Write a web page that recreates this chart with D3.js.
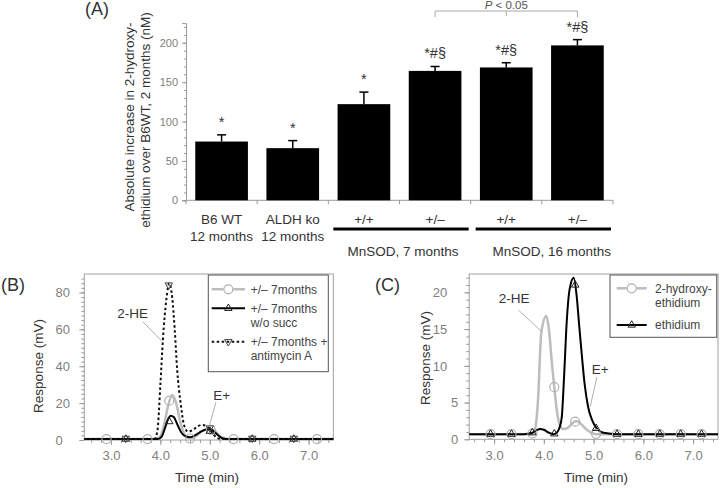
<!DOCTYPE html>
<html><head><meta charset="utf-8">
<script src="https://cdn.jsdelivr.net/npm/d3@7"></script>
<style>
body{margin:0;background:#fff;}
svg{display:block;font-family:"Liberation Sans",Arial,Helvetica,sans-serif;}
</style></head>
<body>
<svg id="chart" width="720" height="488"></svg>
<script>
// ---------- Panel A data ----------
const aCategories = ["B6 WT","ALDH ko","+/+","+/–","+/+","+/–"];
const aSubLabels = ["12 months","12 months","","","",""];
const aValues = [74.6, 66.2, 122.1, 164.3, 168.7, 196.7];
const aErrors = [8.5, 9.6, 15.3, 5.6, 6.0, 7.3];
const aSig = ["*","*","*","*#§","*#§","*#§"];
const aYTicks = [0,50,100,150,200];
const aGroups = [{label:"MnSOD, 7 months", from:2, to:3}, {label:"MnSOD, 16 months", from:4, to:5}];
const aBracket = {from:3, mid:4, to:5, text:"< 0.05"};

// ---------- Panel B data (time min, response mV) ----------
const bSeries7m = [[2.46,0.5],[3.0,0.5],[3.5,0.5],[3.92,0.6],[4.0,2],[4.08,9],[4.16,19],[4.24,24.4],[4.32,20],[4.4,10],[4.48,3.5],[4.56,1.2],[4.64,1],[4.74,2.5],[4.87,5.3],[5.0,6.3],[5.1,5],[5.2,2.2],[5.3,0.8],[5.45,0.5],[7.5,0.5]];
const bSeriesNoSucc = [[2.46,0.5],[3.95,0.5],[4.03,2],[4.1,7],[4.16,11.5],[4.21,13.2],[4.27,12.5],[4.35,8],[4.43,3.8],[4.52,1.9],[4.6,1.5],[4.7,2.5],[4.82,4.5],[4.95,5.8],[5.05,5.3],[5.15,3],[5.25,1],[5.4,0.5],[7.5,0.5]];
const bSeriesAntimycin = [[2.46,0.5],[3.88,0.5],[3.94,5],[4.0,30],[4.05,54],[4.12,76],[4.18,85],[4.24,77],[4.29,60],[4.34,38],[4.41,20],[4.48,8],[4.56,4.5],[4.66,5.5],[4.76,7.5],[4.85,8.2],[4.95,7],[5.05,4],[5.14,1.2],[5.25,0.5],[7.5,0.5]];
const bCircles = [[2.91,0.5],[3.74,0.5],[4.18,21.3],[4.6,0.8],[5.02,5.5],[5.48,0.5],[6.3,0.5],[7.17,0.5]];
const bUpTriangles = [[3.3,0.5],[4.18,10],[5.0,4.8],[5.86,0.5],[6.7,0.5]];
const bDownTriangles = [[3.3,0.9],[4.17,84],[5.0,6.5],[5.86,0.9],[6.7,0.9]];
const bYTicks = [0,20,40,60,80];
const bXTicks = [3,4,5,6,7];
const bLegend = [["+/– 7months"],["+/– 7months","w/o succ"],["+/– 7months +","antimycin A"]];
const bNotes = [{text:"2-HE", at:[3.436,66], from:[3.648,64], to:[4.039,53.3]},
                {text:"E+", at:[5.241,21.7], from:[5.126,20.6], to:[4.99,7.75]}];

// ---------- Panel C data ----------
const cSeriesHE = [[2.5,0.7],[3.75,0.7],[3.82,1.3],[3.88,5],[3.95,14.6],[4.05,16.8],[4.11,14.5],[4.16,10.5],[4.21,7.1],[4.27,3.5],[4.33,1.8],[4.39,1.4],[4.47,1.5],[4.56,2.1],[4.65,2.5],[4.73,2.2],[4.83,1.5],[4.95,0.9],[5.06,0.7],[7.5,0.7]];
const cSeriesE = [[2.5,0.7],[3.6,0.7],[3.75,0.85],[3.85,1.2],[3.92,1.4],[4.0,1.3],[4.1,0.9],[4.19,0.7],[4.26,0.9],[4.31,1.5],[4.36,3],[4.41,9],[4.46,16],[4.52,20.5],[4.6,22],[4.66,19.5],[4.71,15.5],[4.76,11.7],[4.82,7.5],[4.89,4.4],[4.97,2.6],[5.06,1.5],[5.15,1.0],[5.3,0.8],[5.5,0.7],[7.5,0.7]];
const cCircles = [[2.93,0.7],[3.35,0.7],[3.77,0.8],[4.21,7.1],[4.63,2.4],[5.05,0.75],[5.47,0.7],[5.9,0.7],[6.33,0.7],[6.75,0.7],[7.17,0.7]];
const cTriangles = [[2.93,0.7],[3.35,0.7],[3.77,0.9],[4.21,0.75],[4.63,21],[5.05,1.5],[5.47,0.7],[5.9,0.7],[6.33,0.7],[6.75,0.7],[7.17,0.7]];
const cYTicks = [0,5,10,15,20];
const cXTicks = [3,4,5,6,7];
const cLegend = [["2-hydroxy-","ethidium"],["ethidium"]];
const cNotes = [{text:"2-HE", at:[3.402,18.5], from:[3.488,17.6], to:[3.959,14.65]},
                {text:"E+", at:[5.133,8.85], from:[5.066,8.48], to:[4.932,4.44]}];

// ---------- drawing ----------
const svg = d3.select("#chart");
const AX = "#9a9a9a", TXT = "#333", TICK = "#808080", GRAYLINE = "#bdbdbd";

// ===== Panel A =====
(function(){
  const g = svg.append("g");
  const idx = d3.range(aCategories.length);
  const x = d3.scaleBand().domain(idx).range([186, 613]).paddingInner(0.26).paddingOuter(0.13);
  const y = d3.scaleLinear().domain([0, 225]).range([200.3, 23.1]);
  const step = x.step(), bw = x.bandwidth(), pad = (step - bw) / 2;

  const yAxis = d3.axisLeft(y).tickValues(aYTicks).tickSize(4).tickPadding(4);
  const ya = g.append("g").attr("transform","translate(186,0)").call(yAxis);
  ya.select(".domain").attr("stroke", AX);
  ya.selectAll(".tick line").attr("stroke", AX);
  ya.selectAll(".tick text").attr("fill", TICK).style("font-size","11px");
  const yMinor = d3.axisLeft(y).tickValues(d3.range(0, 225, 10)).tickSize(2).tickFormat("");
  const ym = g.append("g").attr("transform","translate(186,0)").call(yMinor);
  ym.select(".domain").remove();
  ym.selectAll(".tick line").attr("stroke", AX);

  g.append("line").attr("x1",186).attr("x2",613).attr("y1",y(0)).attr("y2",y(0)).attr("stroke",AX);
  const bounds = d3.range(aCategories.length + 1).map(i => 186 + i * step);
  g.selectAll(".ctick").data(bounds).join("line")
    .attr("x1",d=>d).attr("x2",d=>d).attr("y1",y(0)).attr("y2",y(0)+4).attr("stroke",AX);

  g.selectAll(".bar").data(idx).join("rect")
    .attr("x", i => x(i)).attr("width", bw)
    .attr("y", i => y(aValues[i])).attr("height", i => y(0) - y(aValues[i]))
    .attr("fill", "#000");
  idx.forEach(i => {
    const cx = x(i) + bw/2, top = y(aValues[i] + aErrors[i]);
    g.append("line").attr("x1",cx).attr("x2",cx).attr("y1",y(aValues[i])).attr("y2",top).attr("stroke","#000").attr("stroke-width",1.5);
    g.append("line").attr("x1",cx-4.5).attr("x2",cx+4.5).attr("y1",top).attr("y2",top).attr("stroke","#000").attr("stroke-width",1.5);
    g.append("text").attr("x",cx).attr("y",top-8).attr("text-anchor","middle")
      .style("font-size","14.5px").attr("fill",TXT).text(aSig[i]);
    g.append("text").attr("x",cx).attr("y",224).attr("text-anchor","middle")
      .style("font-size","13.5px").attr("fill",TXT).text(aCategories[i]);
    if (aSubLabels[i]) g.append("text").attr("x",cx).attr("y",241).attr("text-anchor","middle")
      .style("font-size","13.5px").attr("fill",TXT).text(aSubLabels[i]);
  });
  aGroups.forEach((gr, k) => {
    const x1 = x(gr.from) - pad + 5, x2 = x(gr.to) + bw + pad - 2;
    g.append("line").attr("x1",x1).attr("x2",x2).attr("y1",229).attr("y2",229).attr("stroke","#000").attr("stroke-width",3);
    const t = g.append("text").attr("y",256).style("font-size","13.5px").attr("fill",TXT).text(gr.label);
    if (k === 0) t.attr("x",(x1+x2)/2 + 2).attr("text-anchor","middle");
    else t.attr("x",x2).attr("text-anchor","end");
  });
  const bx1 = x(aBracket.from)+bw/2, bxm = x(aBracket.mid)+bw/2, bx2 = x(aBracket.to)+bw/2;
  g.append("path").attr("d",`M${bx1},17V11H${bx2}V17M${bxm},11V16`).attr("fill","none").attr("stroke","#a8a8a8");
  const pt = g.append("text").attr("x",bxm).attr("y",8.5).attr("text-anchor","middle").style("font-size","11.5px").attr("fill","#555");
  pt.append("tspan").style("font-style","italic").text("P");
  pt.append("tspan").text(" " + aBracket.text);

  g.append("text").attr("transform","translate(134,117) rotate(-90)").attr("text-anchor","middle")
    .style("font-size","13.5px").attr("fill",TXT).text("Absolute increase in 2-hydroxy-");
  g.append("text").attr("transform","translate(150,120) rotate(-90)").attr("text-anchor","middle")
    .style("font-size","13.5px").attr("fill",TXT).text("ethidium over B6WT, 2 months (nM)");
  g.append("text").attr("x",85).attr("y",15).style("font-size","18px").attr("fill",TXT).text("(A)");
})();

// ===== chromatogram helper =====
function chromPanel(opt){
  const g = svg.append("g");
  const x = d3.scaleLinear().domain(opt.xDomain).range(opt.xRange);
  const y = d3.scaleLinear().domain(opt.yDomain).range(opt.yRange);
  const [L, R] = opt.xRange, [B, T] = opt.yRange;
  g.append("rect").attr("x",L).attr("y",T).attr("width",R-L).attr("height",B-T).attr("fill","none").attr("stroke","#a0a0a0");
  const xa = g.append("g").attr("transform",`translate(0,${B})`).call(d3.axisBottom(x).tickValues(opt.xTicks).tickSize(5).tickPadding(6));
  xa.select(".domain").remove();
  xa.selectAll(".tick line").attr("stroke",AX);
  xa.selectAll(".tick text").attr("fill",TICK).style("font-size","13px");
  const xm = g.append("g").attr("transform",`translate(0,${B})`).call(d3.axisBottom(x).tickValues(opt.xMinor).tickSize(3).tickFormat(""));
  xm.select(".domain").remove(); xm.selectAll(".tick line").attr("stroke",AX);
  const ya = g.append("g").attr("transform",`translate(${L},0)`).call(d3.axisLeft(y).tickValues(opt.yTicks).tickSize(5));
  ya.select(".domain").remove();
  ya.selectAll(".tick line").attr("stroke",AX);
  ya.selectAll(".tick text").attr("fill",TICK).style("font-size","13px").each(opt.yLabelStyle);
  const ym = g.append("g").attr("transform",`translate(${L},0)`).call(d3.axisLeft(y).tickValues(opt.yMinor).tickSize(3).tickFormat(""));
  ym.select(".domain").remove(); ym.selectAll(".tick line").attr("stroke",AX);
  g.append("text").attr("x",opt.xTitlePos).attr("y",482).attr("text-anchor","middle").style("font-size","13.5px").attr("fill",TXT).text("Time (min)");
  g.append("text").attr("transform",`translate(${opt.yTitlePos[0]},${opt.yTitlePos[1]}) rotate(-90)`).attr("text-anchor","middle").style("font-size","13.5px").attr("fill",TXT).text("Response (mV)");
  g.append("text").attr("x",opt.panelPos[0]).attr("y",opt.panelPos[1]).style("font-size","18px").attr("fill",TXT).text(opt.panel);

  const line = d3.line().x(d=>x(d[0])).y(d=>y(d[1])).curve(d3.curveMonotoneX);
  opt.series.forEach(s => {
    g.append("path").datum(s.data).attr("d",line).attr("fill","none")
      .attr("stroke",s.color).attr("stroke-width",s.width).attr("stroke-dasharray",s.dash||null);
  });
  function marker(sel, type, color){
    if (type === "circle") sel.append("circle").attr("r",4.5).attr("fill","none").attr("stroke",color).attr("stroke-width",1.2);
    else {
      sel.append("path").attr("d", d3.symbol(d3.symbolTriangle, 24)())
        .attr("transform", type === "down" ? "rotate(180)" : null)
        .attr("fill","none").attr("stroke",color).attr("stroke-width",1);
    }
  }
  opt.markers.forEach(m => {
    m.data.forEach(d => {
      const mg = g.append("g").attr("transform",`translate(${x(d[0])},${y(d[1])})`);
      marker(mg, m.type, m.color);
    });
  });
  opt.notes.forEach(n => {
    g.append("line").attr("x1",x(n.from[0])).attr("y1",y(n.from[1])).attr("x2",x(n.to[0])).attr("y2",y(n.to[1])).attr("stroke","#b0b0b0");
    g.append("text").attr("x",x(n.at[0])).attr("y",y(n.at[1])).attr("text-anchor","middle").style("font-size","13.5px").attr("fill",TXT).text(n.text);
  });
  const lg = opt.legend;
  g.append("rect").attr("x",lg.box[0]).attr("y",lg.box[1]).attr("width",lg.box[2]).attr("height",lg.box[3]).attr("fill","#fff").attr("stroke","#555");
  lg.rows.forEach((r, i) => {
    const s = opt.series[i], m = opt.markers[i];
    g.append("line").attr("x1",lg.lineX[0]).attr("x2",lg.lineX[1]).attr("y1",lg.rowY[i]).attr("y2",lg.rowY[i])
      .attr("stroke",s.color).attr("stroke-width",s.width).attr("stroke-dasharray",s.dash||null);
    const mg = g.append("g").attr("transform",`translate(${(lg.lineX[0]+lg.lineX[1])/2},${lg.rowY[i]})`);
    mg.append("rect").attr("x",-5).attr("y",-5).attr("width",10).attr("height",10).attr("fill","#fff").attr("opacity", m.type==="circle"?1:0);
    marker(mg, m.type, m.color);
    r.forEach((t, j) => {
      g.append("text").attr("x",lg.textX).attr("y",lg.rowY[i] + 4.3 + j*14).style("font-size","12px").attr("fill","#444").text(t);
    });
  });
}

const bMinorX = d3.range(2.6, 7.5, 0.2).map(v => +v.toFixed(2));
chromPanel({
  panel:"(B)", panelPos:[1,291],
  xDomain:[2.46,7.5], xRange:[84.3,333.3], yDomain:[0,90], yRange:[440,274],
  xTicks:bXTicks, xMinor:bMinorX, yTicks:bYTicks, yMinor:d3.range(0, 90, 2.5),
  yLabelStyle:function(){ d3.select(this).attr("text-anchor","start").attr("x",-28.8); },
  xTitlePos:207, yTitlePos:[43,366],
  series:[{data:bSeries7m,color:GRAYLINE,width:2.5},{data:bSeriesNoSucc,color:"#000",width:2},{data:bSeriesAntimycin,color:"#111",width:2,dash:"2.5,2.5"}],
  markers:[{data:bCircles,type:"circle",color:"#b0b0b0"},{data:bUpTriangles,type:"up",color:"#222"},{data:bDownTriangles,type:"down",color:"#444"}],
  notes:bNotes,
  legend:{box:[208.3,275,120,96.7], lineX:[211.7,245], rowY:[289.3,308.3,341.7], textX:250.7, rows:bLegend}
});

chromPanel({
  panel:"(C)", panelPos:[375,291],
  xDomain:[2.5,7.5], xRange:[469.2,718], yDomain:[0,22.5], yRange:[439.3,274],
  xTicks:cXTicks, xMinor:d3.range(2.6,7.5,0.2).map(v=>+v.toFixed(2)), yTicks:cYTicks, yMinor:d3.range(0,22.5,1),
  yLabelStyle:function(d){ d3.select(this).attr("x", String(d).length > 1 ? -22 : -11); },
  xTitlePos:596, yTitlePos:[430,358],
  series:[{data:cSeriesHE,color:GRAYLINE,width:2.5},{data:cSeriesE,color:"#000",width:2}],
  markers:[{data:cCircles,type:"circle",color:"#b0b0b0"},{data:cTriangles,type:"up",color:"#222"}],
  notes:cNotes,
  legend:{box:[610,275,106.7,62.3], lineX:[616.7,646.7], rowY:[288.3,325], textX:655, rows:cLegend}
});
</script>
</body></html>
